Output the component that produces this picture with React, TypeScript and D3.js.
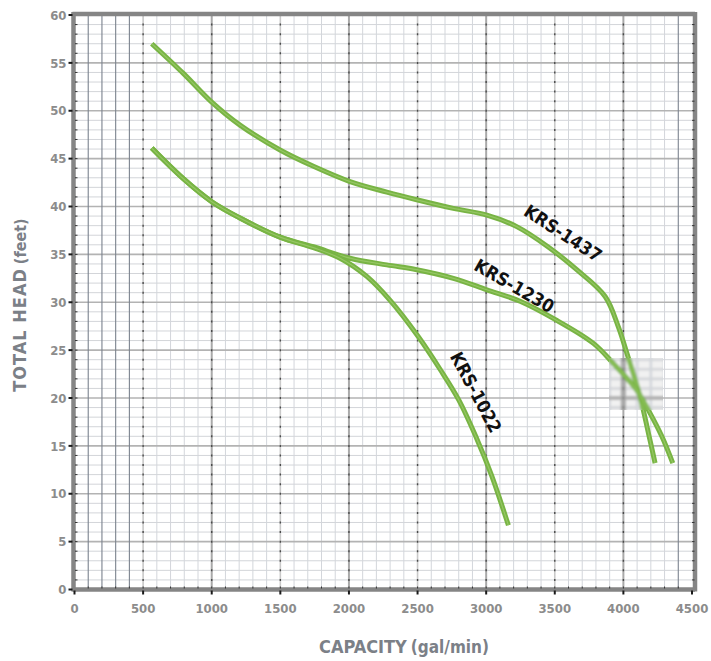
import React from "react";
import * as d3 from "d3";

const W = 711;
const H = 661;

const xTicks = [0, 500, 1000, 1500, 2000, 2500, 3000, 3500, 4000, 4500];
const yTicks = [0, 5, 10, 15, 20, 25, 30, 35, 40, 45, 50, 55, 60];

const krs1437: [number, number][] = [
  [563, 57.0], [793, 53.9], [1000, 50.9], [1206, 48.5], [1498, 45.9], [1741, 44.2],
  [2008, 42.6], [2276, 41.5], [2494, 40.7], [2761, 39.8], [3005, 39.1], [3223, 37.9],
  [3450, 35.8], [3660, 33.4], [3867, 30.6], [3964, 27.4], [4025, 24.7], [4122, 20.1],
  [4183, 16.3], [4231, 13.2],
];
const krs1230: [number, number][] = [
  [563, 46.1], [793, 42.9], [1000, 40.5], [1206, 38.8], [1498, 36.8], [1741, 35.8],
  [2008, 34.6], [2276, 33.9], [2494, 33.4], [2761, 32.5], [3005, 31.3], [3247, 30.1],
  [3515, 28.1], [3782, 25.7], [3927, 23.6], [4098, 20.8], [4195, 18.4], [4280, 16.0],
  [4360, 13.2],
];
const krs1022: [number, number][] = [
  [563, 46.1], [793, 42.9], [1000, 40.5], [1206, 38.8], [1498, 36.8], [1741, 35.7],
  [1935, 34.6], [2130, 32.7], [2300, 30.2], [2506, 26.4], [2664, 23.0], [2800, 19.8],
  [2930, 15.8], [3040, 11.9], [3162, 6.7],
];

const seriesNames = ["KRS-1437", "KRS-1230", "KRS-1022"];
const seriesData = [krs1437, krs1230, krs1022];
// label anchor in data units + rotation
const labelPos: [number, number, number][] = [
  [3560, 37.2, 33],
  [3205, 31.7, 30],
  [2925, 20.6, 62],
];

const darkXLines = [100, 200, 300, 400, 4400];

export default function App() {
  const x = d3.scaleLinear().domain([0, 4500]).range([74.5, 692]);
  const y = d3.scaleLinear().domain([0, 60]).range([589.5, 15]);

  const minorX = d3.range(100, 4500, 100).filter((v) => v % 500 !== 0 && !darkXLines.includes(v));
  const fiveHundreds = d3.range(500, 4500, 500);
  const minorY = d3.range(1, 60, 1).filter((v) => v % 5 !== 0);
  const majorY = d3.range(5, 60, 5);

  const line = d3
    .line<[number, number]>()
    .x((d) => x(d[0]))
    .y((d) => y(d[1]))
    .curve(d3.curveCatmullRom.alpha(0.5));

  const unit = y(0) - y(1);
  const font = "'Liberation Sans Narrow', 'DejaVu Sans Condensed', 'Roboto', sans-serif";

  const grid = (w: number) => (
    <g>
      {minorY.map((v) => (
        <line key={"my" + v} x1={x(0)} x2={x(4500)} y1={y(v)} y2={y(v)} stroke="#d3d5d9" strokeWidth={1 * w} />
      ))}
      {minorX.map((v) => (
        <line key={"mx" + v} x1={x(v)} x2={x(v)} y1={y(0)} y2={y(60)} stroke="#d3d6db" strokeWidth={1 * w} />
      ))}
      {majorY.map((v) => (
        <line key={"My" + v} x1={x(0)} x2={x(4500)} y1={y(v)} y2={y(v)} stroke="#b3b3b3" strokeWidth={1.6 * w} />
      ))}
      {fiveHundreds.map((v) => (
        <g key={"fx" + v}>
          <line x1={x(v)} x2={x(v)} y1={y(0)} y2={y(60)} stroke={v % 1000 === 0 ? "#a9a9a9" : "#c9c9c9"} strokeWidth={(v % 1000 === 0 ? 2 : 1.6) * w} />
          <line
            x1={x(v)}
            x2={x(v)}
            y1={y(0) + 1}
            y2={y(60)}
            stroke="#4a4a4a"
            strokeWidth={1.4}
            strokeDasharray={`2 ${unit - 2}`}
          />
        </g>
      ))}
      {darkXLines.map((v) => (
        <line key={"dx" + v} x1={x(v)} x2={x(v)} y1={y(0)} y2={y(60)} stroke="#7b838e" strokeWidth={1.1 * w} />
      ))}
    </g>
  );

  const curves = (
    <g>
      {seriesData.map((s, i) => (
        <g key={"c" + i}>
          <path d={line(s) || ""} fill="none" stroke="#78b444" strokeWidth={5} strokeLinecap="butt" strokeLinejoin="round" />
          <path d={line(s) || ""} fill="none" stroke="#9ccb6c" strokeWidth={1.2} opacity={0.8} />
        </g>
      ))}
    </g>
  );

  return (
    <div style={{ position: "absolute", left: 0, top: 0 }}>
      <svg width={W} height={H} style={{ display: "block", background: "#fff" }}>
        <defs>
          <clipPath id="patch">
            <rect x={609} y={358} width={54} height={52} />
          </clipPath>
          <filter id="blur" x="-20%" y="-20%" width="140%" height="140%">
            <feGaussianBlur stdDeviation={1.2} />
          </filter>
        </defs>
        <rect x={x(0)} y={y(60)} width={x(4500) - x(0)} height={y(0) - y(60)} fill="#fff" />
        {grid(1)}
        {curves}
        <g clipPath="url(#patch)">
          <g filter="url(#blur)">
            <rect x={600} y={350} width={70} height={70} fill="#f1f1f1" />
            {grid(2.6)}
            {curves}
          </g>
        </g>

        {/* borders */}
        <line x1={x(0) - 2} x2={x(4500) + 3} y1={y(60) - 1} y2={y(60) - 1} stroke="#858585" strokeWidth={4.5} />
        <line x1={x(0) - 2} x2={x(4500) + 3} y1={y(0)} y2={y(0)} stroke="#858585" strokeWidth={4.5} />
        <line x1={x(0) - 1} x2={x(0) - 1} y1={y(60) - 3} y2={y(0) + 2} stroke="#858585" strokeWidth={4.5} />
        <line x1={x(4500) + 3} x2={x(4500) + 3} y1={y(60) - 3} y2={y(0) + 2} stroke="#858585" strokeWidth={4.5} />

        {/* minor ticks on borders */}
        {d3.range(1, 60, 1).map((v) => (
          <g key={"ty" + v}>
            <line x1={x(0) + 0.5} x2={x(0) + 3} y1={y(v)} y2={y(v)} stroke="#333" strokeWidth={1} />
            <line x1={x(4500) + 0} x2={x(4500) + 2.5} y1={y(v)} y2={y(v)} stroke="#333" strokeWidth={1} />
          </g>
        ))}
        {d3.range(100, 4500, 100).map((v) => (
          <line key={"tx" + v} x1={x(v)} x2={x(v)} y1={y(0) - 3} y2={y(0) - 1} stroke="#333" strokeWidth={1} />
        ))}

        {/* major ticks */}
        {yTicks.map((v) => (
          <line key={"Ty" + v} x1={x(0) - 6} x2={x(0) - 2} y1={y(v)} y2={y(v)} stroke="#1a1a1a" strokeWidth={2} />
        ))}
        {xTicks.map((v) => (
          <line key={"Tx" + v} x1={x(v)} x2={x(v)} y1={y(0) + 1} y2={y(0) + 5} stroke="#1a1a1a" strokeWidth={2} />
        ))}

        {/* tick labels */}
        {yTicks.map((v) => (
          <text
            key={"ly" + v}
            x={x(0) - 8}
            y={y(v)}
            dy="0.36em"
            textAnchor="end"
            fontFamily={font}
            fontWeight={700}
            fontSize={13}
            fill="#8c8c8c"
          >
            {v}
          </text>
        ))}
        {xTicks.map((v) => (
          <text
            key={"lx" + v}
            x={x(v)}
            y={y(0) + 23}
            textAnchor="middle"
            fontFamily={font}
            fontWeight={700}
            fontSize={13}
            fill="#8c8c8c"
          >
            {v}
          </text>
        ))}

        {/* series labels */}
        {seriesNames.map((n, i) => {
          const [lx, ly, rot] = labelPos[i];
          return (
            <text
              key={"sl" + i}
              transform={`translate(${x(lx)},${y(ly)}) rotate(${rot})`}
              textAnchor="middle"
              dy="0.35em"
              fontFamily={font}
              fontWeight={700}
              fontSize={18}
              fill="#111"
            >
              {n}
            </text>
          );
        })}

        {/* axis titles */}
        <text
          transform={`translate(26,305) rotate(-90)`}
          textAnchor="middle"
          fontFamily={font}
          fontSize={18}
          fill="#7b8087"
          letterSpacing={1}
        >
          <tspan fontWeight={700}>TOTAL HEAD</tspan>
          <tspan fontWeight={700} fontSize={16} letterSpacing={0} dx={4}>(feet)</tspan>
        </text>
        <text
          x={404}
          y={653}
          textAnchor="middle"
          fontFamily={font}
          fontSize={18}
          fill="#7b8087"
        >
          <tspan fontWeight={700}>CAPACITY</tspan>
          <tspan fontWeight={700} fontSize={17} dx={4}>(gal/min)</tspan>
        </text>
      </svg>
    </div>
  );
}
